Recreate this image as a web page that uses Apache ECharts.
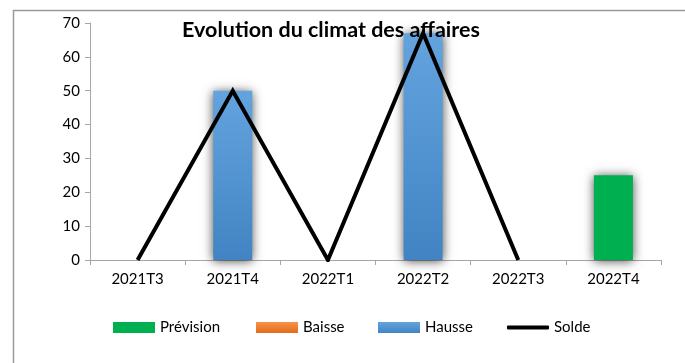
<!DOCTYPE html>
<html>
<head>
<meta charset="utf-8">
<script src="https://cdn.jsdelivr.net/npm/echarts@6/dist/echarts.min.js"></script>
<style>
  html, body { margin: 0; padding: 0; background: #fff; }
  #chart { width: 685px; height: 363px; }
</style>
</head>
<body>
<div id="chart"></div>
<script>
// Quarterly business-climate survey
const categories = ['2021T3', '2021T4', '2022T1', '2022T2', '2022T3', '2022T4'];
const prevision = [0, 0, 0, 0, 0, 25];
const baisse = [0, 0, 0, 0, 0, 0];
const hausse = [0, 50, 0, 67, 0, 0];
const solde = [0, 50, 0, 67, 0, null];
const yTicks = { min: 0, max: 70, interval: 10 };

const FONT = 'Lato, "Open Sans", sans-serif';

const chart = echarts.init(document.getElementById('chart'), null, { renderer: 'canvas' });

const barShadow = {
  shadowColor: 'rgba(0,0,0,0.7)',
  shadowBlur: 10,
  shadowOffsetX: 0,
  shadowOffsetY: 1
};

function vgrad(top, bottom) {
  return new echarts.graphic.LinearGradient(0, 0, 0, 1, [
    { offset: 0, color: top },
    { offset: 1, color: bottom }
  ]);
}

const legendText = { fontFamily: FONT, fontSize: 15, color: '#000' };
function legendAt(name, left, icon, h, top) {
  return {
    data: [{ name: name, icon: icon }], left: left, top: top,
    itemWidth: 42, itemHeight: h, itemGap: 0,
    padding: 0,
    textStyle: legendText
  };
}

chart.setOption({
  animation: false,
  backgroundColor: '#fff',
  textStyle: { fontFamily: FONT },
  graphic: [{
    type: 'rect',
    left: 11, top: 8,
    shape: { width: 700, height: 400 },
    style: { fill: 'none', stroke: '#9a9a9a', lineWidth: 1.5 },
    silent: true,
    z: -1
  }],
  title: {
    text: 'Evolution du climat des affaires',
    left: 326,
    textAlign: 'center',
    top: 14,
    textStyle: { fontFamily: FONT, fontSize: 21.5, fontWeight: 'bold', color: '#000' }
  },
  legend: [
    legendAt('Prévision', 113, 'rect', 11, 320),
    legendAt('Baisse', 256, 'rect', 11, 320),
    legendAt('Hausse', 378, 'rect', 11, 320),
    legendAt('Solde', 507, 'roundRect', 4, 320)
  ],
  grid: { left: 90, right: 24, top: 23, bottom: 103 },
  xAxis: {
    type: 'category',
    data: categories,
    boundaryGap: true,
    axisLine: { lineStyle: { color: '#a6a6a6', width: 1 } },
    axisTick: { show: true, alignWithLabel: false, length: 5, lineStyle: { color: '#a6a6a6' } },
    axisLabel: { color: '#000', fontSize: 15, fontFamily: FONT, margin: 12 }
  },
  yAxis: {
    type: 'value',
    min: yTicks.min, max: yTicks.max, interval: yTicks.interval,
    axisLine: { show: true, lineStyle: { color: '#a6a6a6', width: 1 } },
    axisTick: { show: true, length: 5, lineStyle: { color: '#a6a6a6' } },
    splitLine: { show: false },
    axisLabel: { color: '#000', fontSize: 15, fontFamily: FONT, margin: 10 }
  },
  series: [
    {
      name: 'Prévision', type: 'bar', stack: 'v', barWidth: '41%',
      data: prevision,
      itemStyle: Object.assign({ color: '#00B050' }, barShadow)
    },
    {
      name: 'Baisse', type: 'bar', stack: 'v', barWidth: '41%',
      data: baisse,
      itemStyle: Object.assign({ color: vgrad('#F79249', '#E36C1C') }, barShadow)
    },
    {
      name: 'Hausse', type: 'bar', stack: 'v', barWidth: '41%',
      data: hausse,
      itemStyle: Object.assign({ color: vgrad('#63A4DF', '#4283C3') }, barShadow)
    },
    {
      name: 'Solde', type: 'line',
      data: solde,
      showSymbol: false,
      symbol: 'none',
      connectNulls: false,
      lineStyle: { color: '#000', width: 4, join: 'miter' },
      itemStyle: { color: '#000' },
      z: 5
    }
  ]
});
</script>
</body>
</html>
